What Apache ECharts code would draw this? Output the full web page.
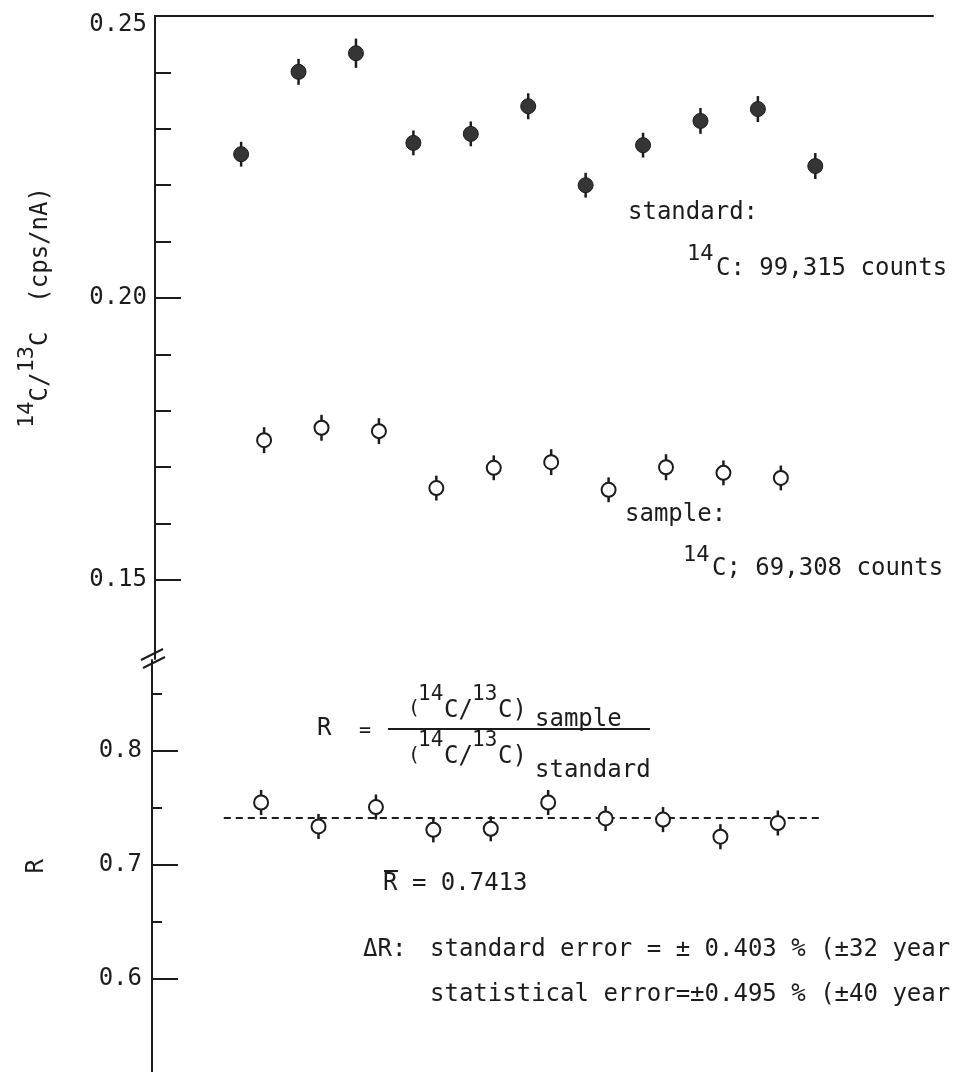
<!DOCTYPE html>
<html>
<head>
<meta charset="utf-8">
<title>14C/13C and R</title>
<script src="https://cdn.jsdelivr.net/npm/echarts@6.0.0/dist/echarts.min.js"></script>
<style>
html, body { margin: 0; padding: 0; background: #fff; }
#chart { width: 955px; height: 1072px; }
</style>
</head>
<body>
<div id="chart"></div>
<script>
// measurement order: standard and sample runs alternate
var stdRun = [1, 2, 3, 4, 5, 6, 7, 8, 9, 10, 11];
var smpRun = [1.4, 2.4, 3.4, 4.4, 5.4, 6.4, 7.4, 8.4, 9.4, 10.4];

var stdRatio = [0.2255, 0.2401, 0.2434, 0.2275, 0.2291, 0.2340, 0.2200, 0.2271, 0.2314, 0.2335, 0.2234];
var stdErr = [0.0022, 0.0023, 0.0026, 0.0022, 0.0022, 0.0023, 0.0022, 0.0022, 0.0023, 0.0023, 0.0023];
var smpRatio = [0.1748, 0.1770, 0.1764, 0.1663, 0.1699, 0.1709, 0.1660, 0.1700, 0.1690, 0.1681];
var smpErr = [0.0023, 0.0023, 0.0023, 0.0022, 0.0022, 0.0023, 0.0022, 0.0023, 0.0022, 0.0022];
var rValue = [0.755, 0.734, 0.751, 0.731, 0.732, 0.755, 0.741, 0.740, 0.725, 0.737];
var rErr = [0.011, 0.011, 0.011, 0.011, 0.011, 0.011, 0.011, 0.011, 0.011, 0.011];
var rMean = 0.7413;
var rMeanSpan = [0.75, 11.13];

var ratioMajor = [0.15, 0.20, 0.25];
var ratioMinor = [0.16, 0.17, 0.18, 0.19, 0.21, 0.22, 0.23, 0.24];
var rMajor = [0.6, 0.7, 0.8];
var rMinor = [0.65, 0.75, 0.85];

var FONT = "'DejaVu Sans Mono', 'Liberation Mono', monospace";
var INK = '#1c1c1c';

function pairs(xs, ys) {
  return xs.map(function (x, i) { return [x, ys[i]]; });
}

function errorBars(xs, ys, es, axis) {
  return {
    type: 'custom',
    xAxisIndex: axis === 0 ? 0 : 1,
    yAxisIndex: axis,
    z: 1,
    silent: true,
    data: xs.map(function (x, i) { return [x, ys[i] - es[i], ys[i] + es[i]]; }),
    encode: { x: 0, y: [1, 2] },
    renderItem: function (params, api) {
      var lo = api.coord([api.value(0), api.value(1)]);
      var hi = api.coord([api.value(0), api.value(2)]);
      return {
        type: 'line',
        shape: { x1: lo[0], y1: lo[1], x2: hi[0], y2: hi[1] },
        style: { stroke: INK, lineWidth: 2.5 }
      };
    }
  };
}

function yAxisPair(grid, min, max, major, minor, minorLen, fmt, margin, name, nameStyle, nameGap) {
  return [{
    type: 'value', gridIndex: grid, min: min, max: max, position: 'left',
    name: name, nameLocation: 'middle', nameRotate: 90, nameGap: nameGap,
    nameTextStyle: nameStyle,
    axisLine: { show: true, onZero: false, lineStyle: { color: INK, width: 2 } },
    axisTick: { show: true, inside: true, length: 26, customValues: major, lineStyle: { color: INK, width: 2 } },
    axisLabel: {
      show: true, customValues: major, margin: margin, formatter: fmt,
      fontFamily: FONT, fontSize: 24, color: INK,
      rich: { lo: { fontFamily: FONT, fontSize: 24, color: INK, padding: [18, 0, 0, 0] } }
    },
    splitLine: { show: false }
  }, {
    type: 'value', gridIndex: grid, min: min, max: max, position: 'left',
    axisLine: { show: false, onZero: false },
    axisTick: { show: true, inside: true, length: minorLen, customValues: minor, lineStyle: { color: INK, width: 2 } },
    axisLabel: { show: false },
    splitLine: { show: false }
  }];
}

function txt(s, x, y, size) {
  return {
    type: 'text', x: x, y: y, silent: true,
    style: { text: s, fontFamily: FONT, fontSize: size, fill: INK, align: 'left', verticalAlign: 'middle' }
  };
}

function seg(x1, y1, x2, y2) {
  return { type: 'line', silent: true, shape: { x1: x1, y1: y1, x2: x2, y2: y2 }, style: { stroke: INK, lineWidth: 2 } };
}

var topName = '{s|14}{n|C/}{s|13}{n|C  (cps/nA)}';
var topNameStyle = {
  fontFamily: FONT, color: INK, padding: [0, 0, 0, 60],
  rich: {
    s: { fontFamily: FONT, fontSize: 22, color: INK, lineHeight: 20, verticalAlign: 'top' },
    n: { fontFamily: FONT, fontSize: 24, color: INK, lineHeight: 50, verticalAlign: 'middle' }
  }
};

var yAxes = yAxisPair(0, 0.136, 0.25, ratioMajor, ratioMinor, 16, function (v) {
  return Math.abs(v - 0.25) < 1e-9 ? '{lo|0.25}' : v.toFixed(2);
}, 8, topName, topNameStyle, 89).concat(
  yAxisPair(1, 0.518, 0.88, rMajor, rMinor, 10, function (v) {
    return v.toFixed(1);
  }, 10, 'R', { fontFamily: FONT, fontSize: 24, color: INK }, 103)
);

var chart = echarts.init(document.getElementById('chart'));
chart.setOption({
  backgroundColor: '#fff',
  animation: false,
  grid: [
    { left: 155, top: 16, width: 778, height: 643, containLabel: false, outerBoundsMode: 'none' },
    { left: 152, top: 660, width: 778, height: 412.7, containLabel: false, outerBoundsMode: 'none' }
  ],
  xAxis: [{
    type: 'value', gridIndex: 0, min: -0.5, max: 13.05, position: 'top',
    axisLine: { show: true, onZero: false, lineStyle: { color: INK, width: 2 } },
    axisTick: { show: false }, axisLabel: { show: false }, splitLine: { show: false }
  }, {
    type: 'value', gridIndex: 1, min: -0.5, max: 13.05, show: false,
    axisLine: { onZero: false }, splitLine: { show: false }
  }],
  yAxis: yAxes,
  series: [
    errorBars(stdRun, stdRatio, stdErr, 0),
    errorBars(smpRun, smpRatio, smpErr, 0),
    errorBars(smpRun, rValue, rErr, 2),
    {
      name: 'standard', type: 'scatter', xAxisIndex: 0, yAxisIndex: 0, z: 3,
      symbol: 'circle', symbolSize: 15,
      itemStyle: { color: '#353535', borderColor: INK, borderWidth: 1, opacity: 1 },
      data: pairs(stdRun, stdRatio)
    },
    {
      name: 'sample', type: 'scatter', xAxisIndex: 0, yAxisIndex: 0, z: 3,
      symbol: 'circle', symbolSize: 14,
      itemStyle: { color: '#fff', borderColor: INK, borderWidth: 2, opacity: 1 },
      data: pairs(smpRun, smpRatio)
    },
    {
      name: 'R', type: 'scatter', xAxisIndex: 1, yAxisIndex: 2, z: 3,
      symbol: 'circle', symbolSize: 14,
      itemStyle: { color: '#fff', borderColor: INK, borderWidth: 2, opacity: 1 },
      data: pairs(smpRun, rValue),
      markLine: {
        silent: true, symbol: 'none', z: 1,
        label: { show: false },
        lineStyle: { color: INK, width: 2, type: [7, 5] },
        data: [[{ coord: [rMeanSpan[0], rMean] }, { coord: [rMeanSpan[1], rMean] }]]
      }
    }
  ],
  graphic: [
    txt('standard:', 628, 213, 24),
    txt('14', 687, 254, 22),
    txt('C: 99,315 counts', 716, 269, 24),
    txt('sample:', 625, 515, 24),
    txt('14', 683, 555, 22),
    txt('C; 69,308 counts', 712, 569, 24),

    txt('R', 317, 729, 24),
    txt('=', 359, 731, 20),
    seg(388, 729, 650, 729),
    txt('(', 408, 709, 20),
    txt('14', 418, 695, 21),
    txt('C/', 444, 711, 24),
    txt('13', 472, 695, 21),
    txt('C)', 498, 711, 24),
    txt('sample', 535, 720, 24),
    txt('(', 408, 756, 20),
    txt('14', 418, 741, 21),
    txt('C/', 444, 757, 24),
    txt('13', 472, 741, 21),
    txt('C)', 498, 757, 24),
    txt('standard', 535, 771, 24),

    txt('R = 0.7413', 383, 884, 24),
    seg(384, 871, 398, 871),
    txt('\u0394R:', 363, 950, 24),
    txt('standard error = \u00b1 0.403 % (\u00b132 year', 430, 950, 24),
    txt('statistical error=\u00b10.495 % (\u00b140 year', 430, 995, 24),

    // axis break
    seg(141, 660, 163, 649),
    seg(143, 668, 165, 657)
  ]
});
</script>
</body>
</html>
